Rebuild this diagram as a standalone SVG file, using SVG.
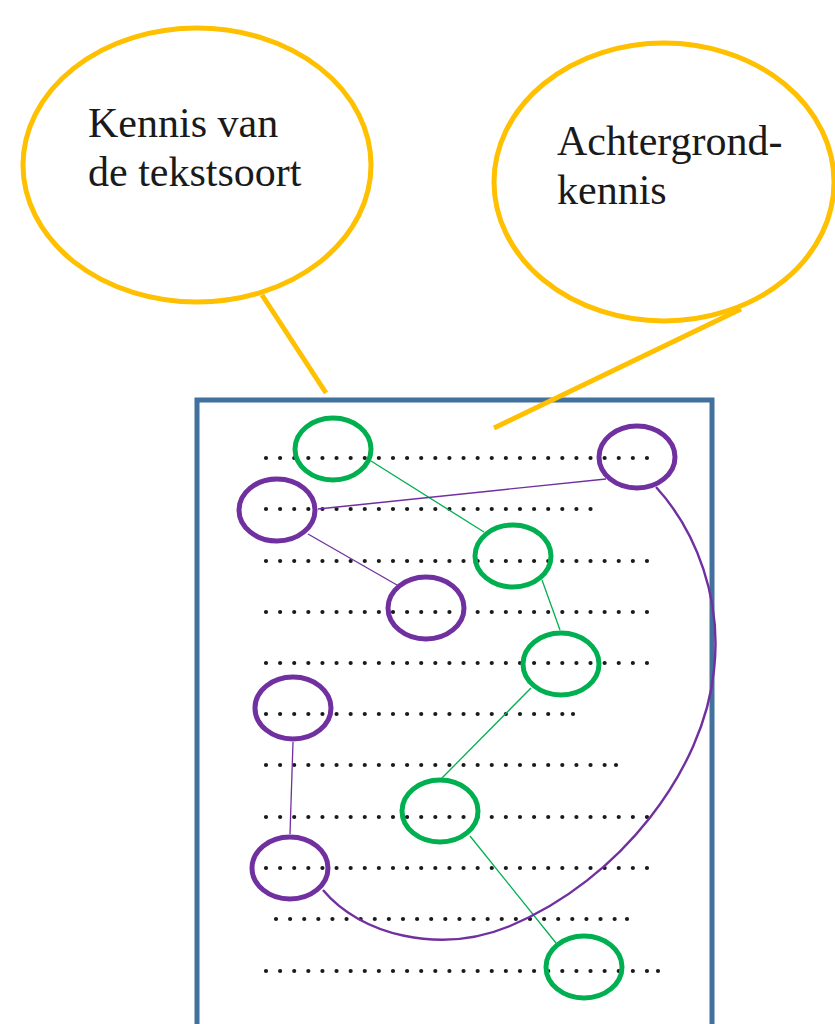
<svg xmlns="http://www.w3.org/2000/svg" width="835" height="1024" viewBox="0 0 835 1024">
<style>
.bubble{fill:none;stroke:#FFC000;stroke-width:5}
.txt{font-family:"Liberation Serif","Times New Roman",serif;font-size:42px;fill:#1a1a1a}
.doc{fill:none;stroke:#41719C;stroke-width:5}
.dots{stroke:#1a1a1a;stroke-width:4.2;stroke-linecap:round;stroke-dasharray:0 14.11;fill:none}
.dot{fill:#1a1a1a}
.g{fill:none;stroke:#00B050;stroke-width:5}
.p{fill:none;stroke:#7030A0;stroke-width:5}
.gl{stroke:#00B050;stroke-width:1.3;fill:none}
.pl{stroke:#7030A0;stroke-width:1.3;fill:none}
.pc{stroke:#7030A0;stroke-width:2.4;fill:none}
.yl{stroke:#FFC000;stroke-width:5;fill:none}
</style>
<rect width="835" height="1024" fill="#ffffff"/>
<g id="bubble-tekstsoort">
<ellipse class="bubble" cx="197" cy="165" rx="174" ry="137"/>
<text class="txt" x="88" y="137">Kennis van</text>
<text class="txt" x="88" y="186">de tekstsoort</text>
</g>
<g id="bubble-achtergrond">
<ellipse class="bubble" cx="664" cy="182" rx="170" ry="139"/>
<text class="txt" x="557" y="155">Achtergrond-</text>
<text class="txt" x="557" y="204">kennis</text>
</g>
<g id="document">
<rect class="doc" x="197" y="400" width="515" height="640"/>
<g id="text-lines">
<line class="dots" x1="266" y1="458" x2="648" y2="458"/>
<line class="dots" x1="266" y1="509" x2="592" y2="509"/>
<line class="dots" x1="266" y1="561" x2="648" y2="561"/>
<line class="dots" x1="266" y1="612" x2="648" y2="612"/>
<line class="dots" x1="266" y1="663" x2="648" y2="663"/>
<line class="dots" x1="266" y1="714" x2="563" y2="714"/>
<circle class="dot" cx="573" cy="714" r="2.1"/>
<line class="dots" x1="266" y1="765" x2="605" y2="765"/>
<circle class="dot" cx="616" cy="765" r="2.1"/>
<line class="dots" x1="266" y1="817" x2="648" y2="817"/>
<line class="dots" x1="266" y1="868" x2="648" y2="868"/>
<line class="dots" x1="276" y1="919" x2="615" y2="919"/>
<circle class="dot" cx="627" cy="919" r="2.1"/>
<line class="dots" x1="266" y1="971" x2="648" y2="971"/>
<circle class="dot" cx="658" cy="971" r="2.1"/>
</g>
</g>
<g id="connectors">
<line class="yl" x1="262" y1="295" x2="326" y2="393"/>
<line class="yl" x1="741" y1="309" x2="494" y2="428"/>
<line class="gl" x1="371" y1="461" x2="484" y2="532"/>
<line class="gl" x1="542" y1="580" x2="560" y2="630"/>
<line class="gl" x1="531" y1="688" x2="442" y2="778"/>
<line class="gl" x1="470" y1="836" x2="556" y2="943"/>
<line class="pl" x1="606" y1="479" x2="318" y2="509"/>
<line class="pl" x1="308" y1="534" x2="397" y2="585"/>
<line class="pl" x1="293" y1="742" x2="290" y2="834"/>
<path class="pc" d="M656,487 C697,532 722,600 714,670 C704,770 620,880 510,926 C440,955 360,935 323,890"/>
</g>
<g id="green-1"><ellipse class="g" cx="333" cy="449" rx="38" ry="31"/></g>
<g id="green-2"><ellipse class="g" cx="513" cy="556" rx="38" ry="31"/></g>
<g id="green-3"><ellipse class="g" cx="561" cy="664" rx="38" ry="31"/></g>
<g id="green-4"><ellipse class="g" cx="440" cy="811" rx="38" ry="31"/></g>
<g id="green-5"><ellipse class="g" cx="584" cy="967" rx="38" ry="31"/></g>
<g id="purple-1"><ellipse class="p" cx="637" cy="457" rx="38" ry="31"/></g>
<g id="purple-2"><ellipse class="p" cx="277" cy="510" rx="38" ry="31"/></g>
<g id="purple-3"><ellipse class="p" cx="426" cy="608" rx="38" ry="31"/></g>
<g id="purple-4"><ellipse class="p" cx="293" cy="708" rx="38" ry="31"/></g>
<g id="purple-5"><ellipse class="p" cx="290" cy="868" rx="38" ry="31"/></g>
</svg>
